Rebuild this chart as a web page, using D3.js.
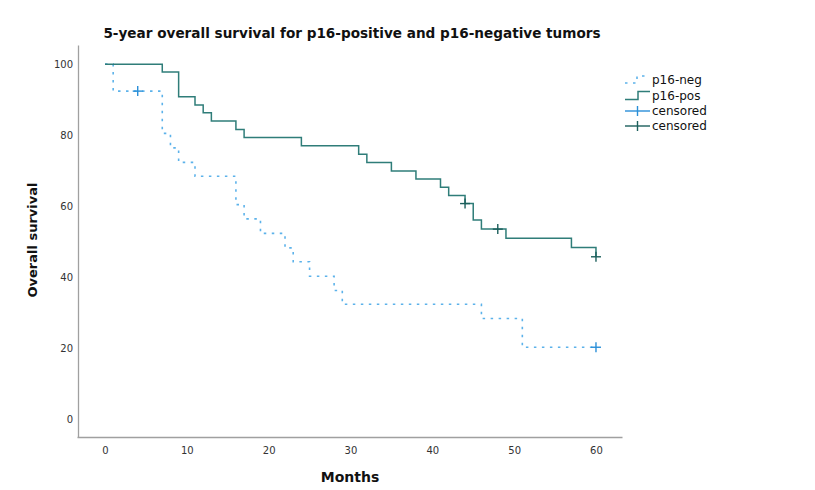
<!DOCTYPE html>
<html>
  <head>
    <meta charset="UTF-8"/>
    <script src="https://d3js.org/d3.v7.min.js"></script>
    <style>
      body{ margin:0; background:#fff; }
      text{ font-family:'DejaVu Sans', sans-serif; }
    </style>
  </head>
  <body>
    <script>
      // Kaplan-Meier steps
      const posTimes = [0, 7, 9, 11, 12, 13, 16, 17, 24, 31, 32, 35, 38, 41, 42, 44, 45, 46, 49, 57, 60];
      const posSurv = [100, 97.8, 90.8, 88.5, 86.3, 84, 81.6, 79.3, 77, 74.6, 72.3, 69.9, 67.6, 65.3, 63, 60.7, 56.1, 53.5, 50.9, 48.3, 45.7];
      const posCensored = [44, 48, 60];

      const negTimes = [0, 1, 7, 8, 9, 11, 16, 17, 19, 22, 23, 25, 28, 29, 46, 51];
      const negSurv = [100, 92.4, 80.5, 76.4, 72.3, 68.4, 60.4, 56.4, 52.3, 48.2, 44.3, 40.2, 36.2, 32.3, 28.3, 20.2];
      const negCensored = [4, 60];

      const followUp = 60;
      const xTicks = [0, 10, 20, 30, 40, 50, 60];
      const yTicks = [0, 20, 40, 60, 80, 100];
      const legendLabels = ['p16-neg', 'p16-pos', 'censored', 'censored'];

      const width = 815, height = 490;
      const posColor = '#2f7d79', negColor = '#5cb2ea';
      const posCross = '#1c5f5c', negCross = '#2a8fd8';

      const svg = d3.select('body').append('svg')
                    .attr('width', width)
                    .attr('height', height);

      const x = d3.scaleLinear().domain([-3.42, 63.18]).range([77, 622]);
      const y = d3.scaleLinear().domain([-5.1, 105.4]).range([437, 45]);

      // axis lines, no tick marks
      const xAxis = d3.axisBottom(x).tickValues(xTicks).tickSize(0).tickPadding(10);
      const yAxis = d3.axisLeft(y).tickValues(yTicks).tickSize(0).tickPadding(5);

      const gx = svg.append('g').attr('transform', 'translate(0,437)').call(xAxis);
      const gy = svg.append('g').attr('transform', 'translate(78,0)').call(yAxis);
      [gx, gy].forEach(g => {
        g.select('.domain').attr('stroke', '#a0a0a0').attr('stroke-width', 1.3);
        g.selectAll('text').attr('font-family', 'DejaVu Sans').attr('font-size', 10).attr('fill', '#333');
      });

      // build step data
      function steps(times, surv, lastT) {
        const pts = times.map((t, i) => [t, surv[i]]);
        if (lastT > times[times.length - 1]) pts.push([lastT, surv[surv.length - 1]]);
        return pts;
      }
      function survAt(times, surv, t) {
        let v = surv[0];
        times.forEach((tt, i) => { if (tt <= t) v = surv[i]; });
        return v;
      }

      const line = d3.line()
                     .x(d => x(d[0]))
                     .y(d => y(d[1]))
                     .curve(d3.curveStepAfter);

      svg.append('path')
         .datum(steps(negTimes, negSurv, followUp))
         .attr('d', line)
         .attr('fill', 'none')
         .attr('stroke', negColor)
         .attr('stroke-width', 1.6)
         .attr('stroke-dasharray', '2.5,5.5');

      svg.append('path')
         .datum(steps(posTimes, posSurv, followUp))
         .attr('d', line)
         .attr('fill', 'none')
         .attr('stroke', posColor)
         .attr('stroke-width', 1.5);

      function cross(g, cx, cy, color, half) {
        g.append('line').attr('x1', cx - half).attr('x2', cx + half).attr('y1', cy).attr('y2', cy)
         .attr('stroke', color).attr('stroke-width', 1.4);
        g.append('line').attr('x1', cx).attr('x2', cx).attr('y1', cy - 5).attr('y2', cy + 5)
         .attr('stroke', color).attr('stroke-width', 1.4);
      }

      const marks = svg.append('g');
      negCensored.forEach(t => cross(marks, x(t), y(survAt(negTimes, negSurv, t)), negCross, 5));
      posCensored.forEach(t => cross(marks, x(t), y(survAt(posTimes, posSurv, t)), posCross, 5));

      // titles
      svg.append('text')
         .attr('x', 352).attr('y', 38)
         .attr('text-anchor', 'middle')
         .attr('font-size', 13.6).attr('font-weight', 'bold').attr('fill', '#111')
         .text('5-year overall survival for p16-positive and p16-negative tumors');

      svg.append('text')
         .attr('x', 350).attr('y', 482)
         .attr('text-anchor', 'middle')
         .attr('font-size', 14).attr('font-weight', 'bold').attr('fill', '#111')
         .text('Months');

      svg.append('text')
         .attr('transform', 'translate(37,240) rotate(-90)')
         .attr('text-anchor', 'middle')
         .attr('font-size', 13).attr('font-weight', 'bold').attr('fill', '#111')
         .text('Overall survival');

      // legend
      const lg = svg.append('g');
      const rowY = [80, 95.5, 111, 126];
      lg.append('path')
        .attr('d', `M625,${rowY[0] + 3}H637V${rowY[0] - 4}H650`)
        .attr('fill', 'none').attr('stroke', negColor).attr('stroke-width', 1.6)
        .attr('stroke-dasharray', '2.5,5.5');
      lg.append('path')
        .attr('d', `M625,${rowY[1] + 4}H638V${rowY[1] - 4}H650`)
        .attr('fill', 'none').attr('stroke', posColor).attr('stroke-width', 1.5);
      cross(lg, 637.5, rowY[2], negCross, 12.5);
      cross(lg, 637.5, rowY[3], posCross, 12.5);

      legendLabels.forEach((l, i) => {
        lg.append('text')
          .attr('x', 652).attr('y', rowY[i] + 4)
          .attr('font-size', 12).attr('fill', '#111')
          .text(l);
      });
    </script>
  </body>
</html>
